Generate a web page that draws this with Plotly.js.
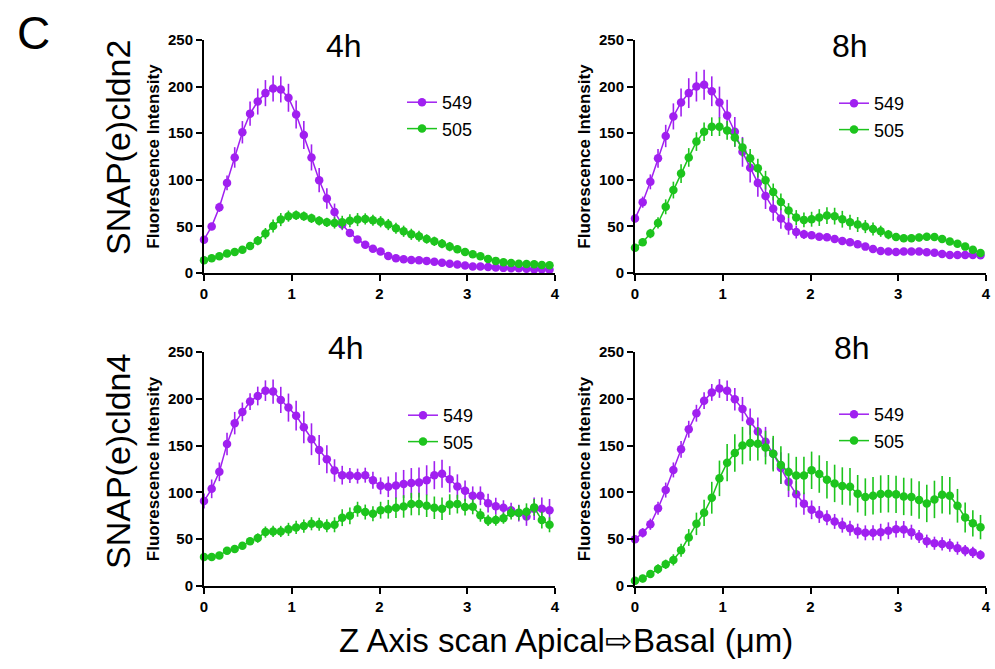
<!DOCTYPE html>
<html>
<head>
<meta charset="utf-8">
<script src="https://cdn.plot.ly/plotly-3.0.1.min.js"></script>
<style>html,body{margin:0;padding:0;background:#fff;}#chart{width:995px;height:669px;}</style>
</head>
<body>
<div id="chart"></div>
<script>
// Z positions (µm)
const zPos = [0, 0.0875, 0.175, 0.2625, 0.35, 0.4375, 0.525, 0.6125, 0.7, 0.7875, 0.875, 0.9625, 1.05, 1.1375, 1.225, 1.3125, 1.4, 1.4875, 1.575, 1.6625, 1.75, 1.8375, 1.925, 2.0125, 2.1, 2.1875, 2.275, 2.3625, 2.45, 2.5375, 2.625, 2.7125, 2.8, 2.8875, 2.975, 3.0625, 3.15, 3.2375, 3.325, 3.4125, 3.5, 3.5875, 3.675, 3.7625, 3.85, 3.9375];

const seriesNames = ["549", "505"];
const panelTitles = ["4h", "8h", "4h", "8h"];
const rowLabels = ["SNAP(e)cldn2", "SNAP(e)cldn4"];
const yTicks = [0, 50, 100, 150, 200, 250];
const xTicks = [0, 1, 2, 3, 4];

// SNAP(e)cldn2, 4h
const c2_4h_549 = [35.8, 50, 70.5, 96.7, 124, 151, 171, 184, 193, 198, 197, 188, 170, 148, 124, 99.6, 80, 65.5, 52, 43, 36, 30.4, 26, 23, 18.3, 15.8, 14.7, 14, 13.6, 13, 12, 11, 10, 9, 8, 7, 7, 6.5, 6, 5.5, 5, 5, 4.5, 4, 4, 3.5];
const c2_4h_549_err = [3, 3, 5, 8, 11, 12, 13, 14, 14, 14, 14, 15, 15, 15, 14, 13, 11, 9, 6, 4, 3, 2, 2, 2, 2, 2, 2, 2, 1, 1, 1, 1, 1, 1, 1, 1, 1, 1, 1, 1, 1, 1, 1, 1, 1, 1];
const c2_4h_505 = [13.6, 15.8, 18, 20.8, 22.6, 25, 29, 34.7, 42.3, 50.5, 57.3, 61, 62, 61, 58.7, 56, 54.4, 53.7, 54.4, 56, 57.3, 58, 56.6, 55, 52, 48, 44.8, 41.5, 39.4, 36.5, 34, 31.5, 28.3, 25.4, 22.6, 20, 18, 15, 13, 11.5, 10.7, 10, 9.7, 9.3, 8.6, 8.2];
const c2_4h_505_err = [2, 2, 2, 2, 2, 3, 4, 5, 6, 7, 7, 6, 5, 5, 5, 5, 5, 6, 7, 7, 7, 6, 6, 6, 6, 6, 6, 6, 6, 5, 5, 5, 5, 4, 4, 3, 3, 3, 3, 2, 2, 2, 2, 2, 2, 2];

// SNAP(e)cldn2, 8h
const c2_8h_549 = [58.4, 76, 97.8, 123, 147, 168, 183, 193, 200, 202, 195, 183, 169, 151.5, 130, 113, 96.7, 82.7, 69, 58.4, 50, 44, 41.5, 40.5, 39, 38.3, 36.5, 34.4, 33, 30.8, 28.3, 25.8, 23.6, 23, 22.6, 23, 23, 23, 22.2, 21.8, 20.4, 19.3, 19.3, 19.3, 19.3, 19];
const c2_8h_549_err = [4, 6, 8, 10, 12, 14, 15, 16, 16, 16, 16, 17, 17, 16, 16, 16, 15, 14, 13, 11, 9, 7, 5, 4, 3, 3, 3, 2, 2, 2, 2, 2, 2, 2, 2, 2, 2, 2, 2, 2, 2, 2, 2, 2, 2, 2];
const c2_8h_505 = [27, 33, 42.3, 53.7, 71, 89, 106.7, 124, 141, 151.5, 157, 157, 153, 145.4, 134.7, 123, 112.5, 99.6, 87, 76.3, 67, 59.5, 57, 57.7, 59.5, 61.6, 61, 57.7, 54.4, 52, 49.8, 47.3, 44.8, 41.2, 38.7, 37.2, 37.2, 38, 39, 38.7, 36.5, 33.7, 31.5, 28.3, 25, 21.5];
const c2_8h_505_err = [3, 4, 5, 6, 8, 9, 10, 10, 10, 10, 10, 10, 10, 10, 10, 10, 10, 10, 9, 9, 8, 8, 8, 8, 9, 9, 9, 9, 8, 8, 7, 7, 6, 5, 4, 4, 4, 4, 4, 4, 4, 3, 3, 3, 3, 3];

// SNAP(e)cldn4, 4h
const c4_4h_549 = [90.7, 103.8, 122, 151.8, 174, 186, 197, 203, 208.7, 207.7, 198.8, 190.6, 182, 169.6, 156.8, 145.4, 135.5, 123.4, 118.4, 118, 117.4, 118.4, 113, 107, 106, 107.4, 109, 110, 110.6, 113, 118.4, 120, 114, 106.3, 101.7, 96.4, 96.4, 88.5, 85.3, 83.6, 81, 77.9, 74.3, 82.5, 82.5, 81];
const c4_4h_549_err = [8, 10, 10, 12, 12, 10, 9, 10, 11, 13, 14, 15, 16, 17, 17, 16, 15, 12, 10, 8, 8, 8, 9, 9, 11, 14, 15, 16, 16, 16, 15, 15, 14, 13, 11, 10, 10, 10, 9, 8, 8, 9, 10, 12, 12, 12];
const c4_4h_505 = [31, 31, 32.7, 37.7, 39.5, 43, 47.7, 51.2, 57.6, 58.3, 58.3, 60.5, 62.6, 64, 66.5, 66, 64.4, 65.4, 73, 75, 82, 79, 77.2, 81, 82, 83.6, 85, 87.5, 87.5, 85.7, 83.6, 82.5, 87, 87.5, 84.3, 84.6, 75.7, 70, 70.4, 72.5, 78, 78.2, 79.3, 84, 70.4, 65.4];
const c4_4h_505_err = [2, 2, 2, 2, 2, 3, 4, 5, 6, 6, 6, 7, 7, 7, 7, 7, 7, 8, 9, 9, 8, 8, 8, 9, 10, 11, 12, 12, 12, 12, 12, 12, 11, 10, 9, 8, 7, 6, 6, 6, 7, 8, 9, 9, 9, 8];

// SNAP(e)cldn4, 8h
const c4_8h_549 = [50, 56.8, 66, 83, 102.5, 124, 146, 167.5, 184.6, 198, 206.8, 211, 208.6, 199.6, 189, 175.7, 165, 154, 141.4, 126, 111, 98, 88, 81.4, 76.4, 72.9, 69, 65, 61.8, 58.6, 56.8, 56.8, 57.5, 59, 60.7, 60.4, 57.5, 52.9, 47.9, 45.7, 45, 43.6, 40.4, 37.9, 36, 33.2];
const c4_8h_549_err = [4, 5, 6, 7, 8, 8, 9, 9, 9, 9, 9, 10, 11, 12, 13, 14, 15, 16, 17, 17, 16, 14, 12, 10, 9, 8, 8, 8, 8, 8, 8, 8, 9, 9, 9, 9, 8, 7, 7, 7, 7, 7, 7, 6, 6, 5];
const c4_8h_505 = [5.7, 7.9, 12.9, 18.2, 23.2, 27.9, 38.2, 51.8, 66.4, 78.2, 94.3, 115, 131.8, 142, 150, 152.9, 152, 147.9, 141.4, 129.3, 121.8, 118, 118, 123.6, 119.6, 113.6, 109.6, 106.8, 106, 98.6, 95, 96.4, 98.2, 98.6, 97.9, 95.7, 95, 91.8, 88.2, 92.5, 97.5, 96.4, 85.7, 73.2, 67, 62.9];
const c4_8h_505_err = [3, 4, 4, 5, 5, 6, 7, 9, 12, 14, 17, 19, 20, 20, 20, 19, 18, 18, 19, 20, 20, 20, 20, 20, 20, 20, 20, 20, 20, 20, 20, 20, 20, 20, 20, 20, 20, 20, 20, 20, 20, 20, 18, 16, 14, 13];

const PURPLE = '#A020F0';
const GREEN = '#1DC41D';
const FONT = 'Arial, "Liberation Sans", Helvetica, sans-serif';

const panels = [
  {x: 'x', y: 'y', legend: 'legend', s549: c2_4h_549, e549: c2_4h_549_err, s505: c2_4h_505, e505: c2_4h_505_err},
  {x: 'x2', y: 'y2', legend: 'legend2', s549: c2_8h_549, e549: c2_8h_549_err, s505: c2_8h_505, e505: c2_8h_505_err},
  {x: 'x3', y: 'y3', legend: 'legend3', s549: c4_4h_549, e549: c4_4h_549_err, s505: c4_4h_505, e505: c4_4h_505_err},
  {x: 'x4', y: 'y4', legend: 'legend4', s549: c4_8h_549, e549: c4_8h_549_err, s505: c4_8h_505, e505: c4_8h_505_err}
];

function mkTrace(p, vals, errs, name, color) {
  return {
    type: 'scatter', mode: 'lines+markers', x: zPos, y: vals, name: name,
    xaxis: p.x, yaxis: p.y, legend: p.legend, cliponaxis: false,
    line: {color: color, width: 1.5},
    marker: {color: color, size: 8.5, symbol: 'circle'},
    error_y: {type: 'data', array: errs, visible: true, color: color, thickness: 1.6, width: 0}
  };
}

const data = [];
panels.forEach(p => {
  data.push(mkTrace(p, p.s549, p.e549, seriesNames[0], PURPLE));
  data.push(mkTrace(p, p.s505, p.e505, seriesNames[1], GREEN));
});

const W = 995, H = 669;
const px = v => v / W;
const py = v => 1 - v / H;

function xAxis(d0, d1, anchor) {
  return {
    domain: [px(d0), px(d1)], anchor: anchor, range: [0, 4], tickvals: xTicks,
    showline: true, linewidth: 2, linecolor: '#000', ticks: 'outside', ticklen: 6, tickwidth: 2, tickcolor: '#000',
    tickfont: {family: FONT, size: 15, color: '#000', weight: 'bold'},
    showgrid: false, zeroline: false, fixedrange: true
  };
}
function yAxis(d0, d1, anchor) {
  return {
    domain: [py(d1), py(d0)], anchor: anchor, range: [0, 250], tickvals: yTicks,
    showline: true, linewidth: 2, linecolor: '#000', ticks: 'outside', ticklen: 6, tickwidth: 2, tickcolor: '#000',
    tickfont: {family: FONT, size: 15, color: '#000', weight: 'bold'},
    showgrid: false, zeroline: false, fixedrange: true,
    title: {text: 'Fluorescence Intensity', standoff: 4, font: {family: FONT, size: 17, color: '#000', weight: 'bold'}}
  };
}

function legendAt(lx, ly) {
  return {
    x: px(lx), y: py(ly), xanchor: 'left', yanchor: 'top', bgcolor: 'rgba(0,0,0,0)', borderwidth: 0,
    font: {family: FONT, size: 18, color: '#000'}, tracegroupgap: 0, itemwidth: 30
  };
}

function ann(text, x, y, size, extra) {
  return Object.assign({text: text, x: px(x), y: py(y), xref: 'paper', yref: 'paper', showarrow: false,
    xanchor: 'center', yanchor: 'middle', font: {family: FONT, size: size, color: '#000'}}, extra || {});
}

const layout = {
  width: W, height: H, margin: {l: 0, r: 0, t: 0, b: 0}, paper_bgcolor: '#fff', plot_bgcolor: '#fff',
  showlegend: true,
  xaxis: xAxis(204, 555, 'y'), yaxis: yAxis(40, 273, 'x'),
  xaxis2: xAxis(635, 986, 'y2'), yaxis2: yAxis(40, 273, 'x2'),
  xaxis3: xAxis(204, 555, 'y3'), yaxis3: yAxis(352, 586, 'x3'),
  xaxis4: xAxis(635, 986, 'y4'), yaxis4: yAxis(352, 586, 'x4'),
  legend: legendAt(402, 84), legend2: legendAt(834, 85),
  legend3: legendAt(403, 397), legend4: legendAt(834, 396),
  annotations: [
    ann('C', 33, 33, 46),
    ann(panelTitles[0], 344, 46, 32),
    ann(panelTitles[1], 850, 46, 32),
    ann(panelTitles[2], 346, 348, 32),
    ann(panelTitles[3], 852, 348, 32),
    ann(rowLabels[0], 118, 148, 34, {textangle: -90}),
    ann(rowLabels[1], 118, 462, 34, {textangle: -90}),
    ann('Z Axis scan Apical\u21E8Basal (\u03BCm)', 566, 640, 33)
  ]
};

Plotly.newPlot('chart', data, layout, {displayModeBar: false, staticPlot: true});
</script>
</body>
</html>
